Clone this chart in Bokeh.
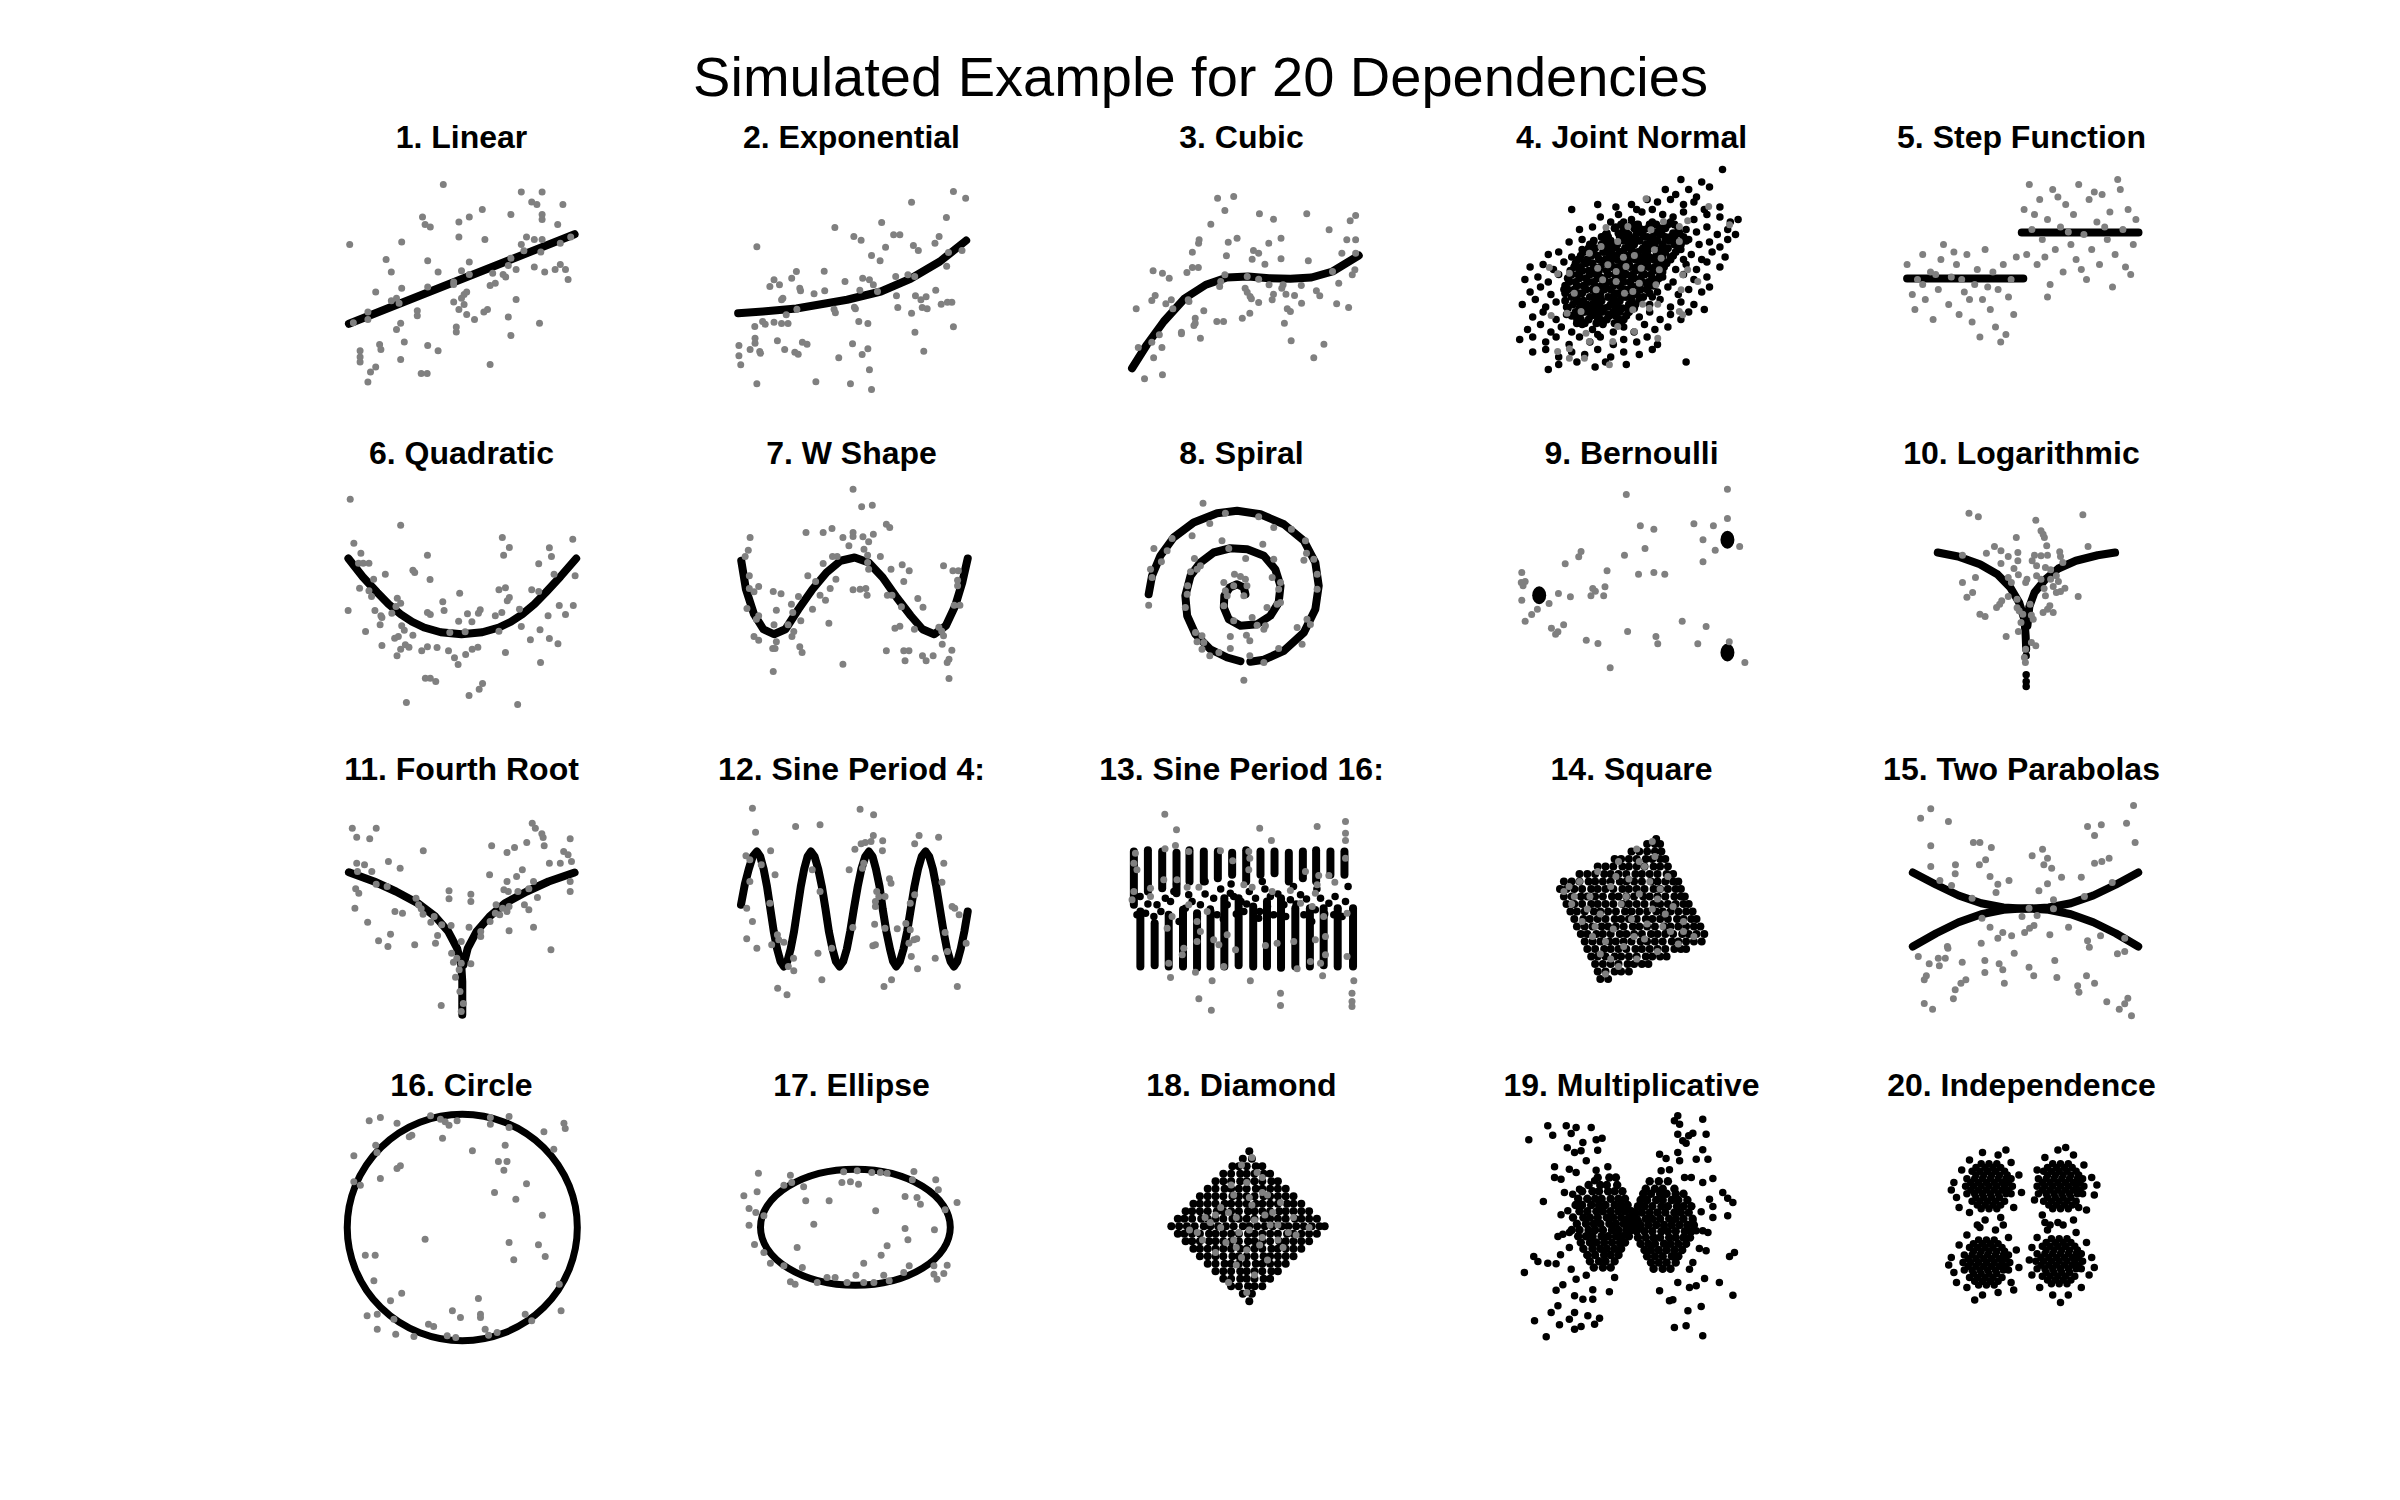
import numpy as np
from bokeh.plotting import figure
from bokeh.layouts import column, row, gridplot
from bokeh.models import Range1d, Spacer, Label
from bokeh.embed import file_html
from bokeh.resources import INLINE

NAN = float("nan")
FONT = "Liberation Sans"
GRAY = "#808080"
BLACK = "#000000"

MAIN_TITLE = "Simulated Example for 20 Dependencies"
PANEL_TITLES = ["1. Linear", "2. Exponential", "3. Cubic", "4. Joint Normal", "5. Step Function",
                "6. Quadratic", "7. W Shape", "8. Spiral", "9. Bernoulli", "10. Logarithmic",
                "11. Fourth Root", "12. Sine Period 4:", "13. Sine Period 16:", "14. Square", "15. Two Parabolas",
                "16. Circle", "17. Ellipse", "18. Diamond", "19. Multiplicative", "20. Independence"]

# ---------------- data (panel units 0-100) ----------------
LIN_CURVE_X = [6.7, 93.5]
LIN_CURVE_Y = [34.3, 70.1]
LIN_PTS = [(43,90),(73,87),(81,87),(77,83),(79,82),(89,82),(58,80),(53,77),(69,78),(35,77),(36,74),(38,73),(49,75),(81,78),(81,76),(87,74),(7,66),(27,67),(49,69),(59,68),(75,69),(78,68),(81,68),(92,69),(88,66.5),(73,66),(74,63.5),(80.5,63),(21,60),(37,59.5),(53,59),(69,60.5),(23,55),(41,55),(50,55.5),(53,54),(62,54.5),(66,54),(67,53),(68,57.6),(71,56),(78,57),(82,55),(86,56),(88,58),(90,56),(91,52),(17,47),(27,48.5),(37,49),(47,50),(47,51),(61,49.6),(63,50.5),(52,47),(51,46),(50,44.5),(47,43),(51,42),(49,40),(52,38),(55,36),(58.6,39),(60,40),(71,44),(68,37),(80,34.5),(69,29.6),(23,43.5),(25,44.5),(26,42.5),(14,39),(14,36),(8.4,34.7),(33,39.5),(33,37.5),(26.6,34.5),(25,32),(48,33),(48,31),(28,27),(18.5,26),(19,24),(11,23.5),(11,21),(11,19),(37,25.6),(41,23.5),(26.6,20),(17,17),(15,15),(14,11),(34.5,14.4),(36.8,14.4),(61,18)]

EXP_CURVE_X = [6.4, 15.9, 28.8, 48.3, 61.3, 72.7, 84, 94.1]
EXP_CURVE_Y = [38.5, 39.2, 40.4, 43.9, 47.2, 52.3, 59.2, 67.6]
EXP_PTS = [(89.2,87.2),(93.9,84.5),(73.1,82.9),(86.5,76.8),(61.6,74.8),(43.6,72.8),(13.6,65.1),(50.9,69.2),(53.7,67.7),(66.2,69.9),(68.6,69.9),(83.7,69.2),(82.1,66.5),(73.8,65.6),(75.7,63.6),(63.1,64.9),(92.5,63.6),(87.3,62.8),(57.7,61.6),(61,59.5),(86.6,57.3),(28.8,55.2),(39.5,55.3),(20.2,51.9),(27,52.5),(18.6,49.2),(22.3,49.9),(30.1,48.5),(30.4,47.5),(35.6,46.3),(39.7,47.5),(47.5,51.2),(54.3,52.5),(56.9,51.9),(58.4,49.9),(53.2,47.7),(60,47.2),(67,53.2),(71.7,53.9),(74.3,53.2),(67.3,45.5),(74.6,45.5),(76.7,43.9),(78.7,45.1),(82.4,47.7),(23.1,43.9),(23.6,44.5),(29,40.1),(43.3,40.1),(43.8,38.7),(51.1,40.9),(51.5,40.3),(67.8,40.8),(73.1,38.5),(77.2,40.8),(79.1,40.3),(84.5,42.1),(86.9,42.9),(88.6,42.9),(24.9,37.9),(12.8,33.2),(15.8,35.2),(16.8,34.1),(20.2,34.9),(23.1,34.4),(25.6,34.4),(52.8,35.2),(56.3,34.4),(89.2,33.1),(74.4,30.9),(12.9,28.5),(12.9,26.5),(6.7,25.6),(11,24),(14.7,23.2),(15,22.5),(21.5,27.5),(24.3,24),(28.2,22.9),(29.5,22.1),(31.1,26.9),(32.9,26.1),(50.4,26.3),(56.3,24.3),(54.1,22),(6.7,21.5),(7.4,17.9),(45.1,20.7),(77.8,23.3),(56.9,15.9),(13.6,10.3),(36.3,11.1),(49.6,10.3),(57.7,8)]

CUB_CURVE_X = [7.9, 13.6, 20.1, 28.2, 36.3, 44.4, 52.5, 60.6, 68.8, 76.9, 85, 95.1]
CUB_CURVE_Y = [16.5, 25.9, 35.2, 44.5, 49.9, 52.8, 53.2, 52.5, 52.3, 52.8, 55.2, 61.6]
CUB_PTS = [(40.8,84.5),(47,85.2),(43.6,79.6),(56.9,78.3),(75.1,78.3),(62.3,76.1),(38.2,74.1),(91.8,75.5),(93.9,77.6),(83.7,71.9),(48.3,68.5),(44.9,66.9),(33.7,67.9),(33.5,66.5),(60.5,66.5),(65.2,68.5),(90.5,67.9),(93.9,67.9),(31.1,62.9),(54.6,63.6),(56.6,62.5),(44.2,61.5),(54.1,60.1),(65.2,60.3),(59,58.1),(75.7,59.5),(88.6,62.5),(93.9,62.5),(93.6,55.9),(92.6,53.9),(85,55.2),(16,55.5),(19.6,54.5),(22.2,52.5),(29,54.8),(31.1,56.8),(33.4,56.8),(43.6,53.9),(52.2,53.2),(56.6,52.1),(42,51.2),(41.6,49.2),(51.4,48.5),(52.2,46.9),(60.6,49.9),(66,49.9),(65.5,48.5),(62.3,46.1),(67.1,46.1),(70.4,45.6),(73,49.6),(78.8,47.5),(80.1,45.5),(87.4,50.5),(16.8,45.6),(15.5,43.6),(20.9,42.3),(23,43.9),(23.6,40.3),(29.5,43.9),(29.8,43.2),(35.5,39.5),(53.3,45.2),(53.8,44.3),(56.6,42.8),(61.8,43.9),(73.1,42.5),(86.6,42.3),(91.2,40.8),(68.8,39.2),(67.6,40.3),(9.5,40.3),(53.2,38.5),(50.3,36.5),(32.2,36.5),(32.2,34.5),(31.7,33.6),(40.5,35.2),(43.1,35.2),(66.5,34.5),(26.9,30.9),(26.9,30.3),(34.2,28.5),(18.4,29.9),(15.5,26.9),(69.1,27.5),(81.7,26.1),(10.3,24.8),(19.4,24.8),(16.2,20.7),(77.8,20.7),(12.7,12.3),(19.6,13.9)]

JN_BLACK = [(85,96),(69,92),(77,91),(63,88),(72,88),(80,89),(67,86),(75,85),
(27,80),(37,82),(44,81),(50,82),(56,84),(60,83),(65,84),(70,82),(74,83),(78,80),(84,81),(58,80),(52,80),
(38,77),(45,78),(50,76),(54,79),(62,78),(66,77),(70,79),(74,76),(79,78),(84,77),(88,75),(91,76),(58,75),(42,75),(47,75),
(30,72),(35,73),(40,70),(44,73),(48,71),(52,74),(55,72),(59,71),(63,73),(67,70),(71,72),(75,71),(79,73),(83,70),(87,72),(90,70),(57,74),(65,75),
(26,67),(31,68),(35,66),(39,69),(43,66),(47,68),(51,67),(55,69),(59,66),(63,68),(67,66),(72,68),(76,66),(80,67),(84,65),(87,68),(49,70),(61,70),
(18,62),(22,63),(27,61),(31,64),(35,62),(39,63),(42,60),(46,63),(50,61),(54,64),(57,61),(61,63),(65,61),(69,64),(73,62),(77,60),(81,63),(86,61),(44,65),(58,65),(70,60),
(11,57),(16,58),(20,56),(24,59),(28,57),(32,59),(36,56),(40,59),(44,57),(48,59),(52,56),(55,59),(59,57),(63,59),(67,56),(71,58),(75,56),(79,59),(84,57),(46,55),(62,55),(30,55),
(9,52),(14,53),(18,51),(22,54),(26,52),(30,54),(34,51),(38,53),(42,51),(46,54),(50,52),(54,54),(58,51),(62,53),(66,51),(70,54),(74,52),(79,53),(36,55),(56,50),(44,50),
(11,47),(15,49),(19,46),(24,48),(28,46),(32,49),(36,47),(40,49),(44,46),(48,48),(52,46),(56,49),(60,47),(64,49),(68,46),(72,48),(77,47),(80,49),(38,45),(58,45),
(8,42),(13,44),(17,41),(21,43),(25,41),(29,44),(33,42),(37,44),(41,41),(45,43),(49,41),(53,44),(57,42),(61,44),(65,41),(69,43),(74,42),(78,40),(47,45),(35,40),
(12,37),(16,39),(21,36),(25,38),(29,36),(33,39),(37,36),(41,38),(45,36),(49,39),(53,37),(57,39),(61,36),(65,38),(69,36),(72,39),(39,40),
(10,32),(15,34),(19,31),(23,33),(27,31),(31,34),(35,32),(39,34),(43,31),(47,33),(51,31),(55,34),(59,32),(64,33),(37,30),
(7,28),(12,29),(17,27),(21,29),(26,26),(30,29),(34,27),(38,29),(43,26),(47,28),(52,27),(56,29),(60,26),
(12,23),(17,24),(22,21),(27,23),(32,22),(37,24),(42,21),(47,23),(53,22),(58,24),
(18,16),(22,18),(29,19),(36,17),(40,19),(48,18),(71,19)]
JN_CORE_ROWS = [
    (74, [46, 50, 52.5, 57, 59.5, 64, 66.5]),
    (72.5, [43.5, 47, 51, 53, 56.5, 61, 63, 68]),
    (70.5, [40.5, 45, 47.5, 52, 54, 59, 61.5, 66, 68.5]),
    (69, [38.5, 41, 45.5, 48, 51.5, 56, 58, 63, 65, 70]),
    (67.5, [35.5, 40, 42, 47, 49.5, 53, 57.5, 60, 64.5, 67, 71]),
    (66, [34, 38.5, 41, 44.5, 49, 51, 55.5, 58.5, 62, 66.5, 69]),
    (64.5, [33.5, 36, 40.5, 43, 47.5, 50, 54.5, 57, 61.5, 64, 68]),
    (63, [31.5, 35, 39.5, 42, 45.5, 50, 52.5, 56, 60.5, 63, 67]),
    (61.5, [30.5, 34.5, 37, 41.5, 44, 48, 52.5, 55, 59.5, 62, 66]),
    (60, [29.5, 33, 37.5, 40, 44.5, 47, 51.5, 54, 58.5, 61, 65]),
    (58.5, [28.5, 32.5, 35, 39.5, 42, 46.5, 49, 53.5, 56, 60.5, 63.5]),
    (57, [28, 30.5, 35.5, 38, 42.5, 45, 49.5, 52, 56.5, 59, 62.5]),
    (55.5, [26.5, 31, 33.5, 37.5, 40.5, 44.5, 47, 51.5, 54, 58.5, 61.5]),
    (54, [27, 29.5, 34, 36.5, 41, 43.5, 48, 50.5, 55, 57.5, 61]),
    (52.5, [25.5, 30, 32.5, 37, 39.5, 44, 46.5, 51, 53.5, 58, 60.5]),
    (51, [26, 28.5, 33, 35.5, 40, 42.5, 47, 49.5, 54, 56.5, 59.5]),
    (49.5, [24.5, 29, 31.5, 36, 38.5, 43, 45.5, 50, 52.5, 57, 58.5]),
    (48, [25.5, 28, 32.5, 35, 39.5, 42, 46.5, 49, 53.5, 56]),
    (46.5, [24.5, 29.5, 31, 36.5, 38, 43.5, 45, 50.5, 52, 57]),
    (45, [27, 29, 34, 36, 41, 43, 48, 50, 54.5]),
    (43.5, [24.5, 29, 31.5, 36, 38.5, 43, 45.5, 50, 53]),
    (42, [27.5, 30.5, 35, 37.5, 42, 44.5, 49, 51.5]),
    (40.5, [25.5, 30, 32.5, 37, 39.5, 44, 46.5, 51]),
    (39, [28.5, 31.5, 36, 38.5, 43, 45.5, 49]),
    (37.5, [27, 30, 34.5, 37, 41.5, 44, 48]),
    (36, [30.5, 33.5, 38, 40.5, 45, 47]),
    (34.5, [29, 32, 36.5, 39, 43.5, 46]),
]
JN_GRAY = [(55.6,84.3),(79.7,81.2),(40.2,72.8),(48.6,73.2),(57.5,71.9),(62.3,75.2),(68.4,73.2),(71.6,75.5),(38.3,65.2),(44.7,67.2),(68.4,67.2),(33.8,62.5),(46.9,60.9),(51.1,61.6),(58.8,63.9),(61.4,60.5),(18.4,56.8),(21.6,54.3),(26.1,54.5),(37,56.5),(40.9,57.9),(44.1,55.2),(47.9,57.2),(53.7,56.5),(60.7,55.9),(71.6,55.9),(69.7,53.9),(38.9,51.9),(44.1,51.2),(36.4,47.9),(53,50.5),(59.4,49.9),(47.3,46.5),(50.5,47.2),(69.1,47.9),(75.5,51.2),(28,46.5),(54.3,42.1),(60.1,42.1),(56.9,40.5),(30.6,39.2),(19.1,37.6),(25.2,38.5),(50.5,39.9),(68.4,39.2),(69.7,37.9),(44.7,33.2),(51.1,31.2),(32.5,30.5),(33.8,27.2),(21.6,23.2),(26.1,24.3),(26.1,20.5),(31.9,20.5),(41.5,17.9),(60.1,28.5),(42.8,27.2),(87.7,73.9)]

STEP_CURVE_X = [6, 50.7, NAN, 50.1, 95]
STEP_CURVE_Y = [52.4, 52.4, NAN, 70.8, 70.8]
STEP_PTS = [(6,58),(8,46),(9,40),(10,52),(12,62),(13,44),(15,55),(16,36),(18,48),(19,60),(20,66),(22,42),(23,53),(25,58),(26,38),(28,47),(29,62),(31,35),(32,50),(33,56),(35,44),(36,64),(38,40),(39,55),(40,33),(41,48),(43,58),(44,30),(45,45),(46,52),(47,38),(48,61),(12,50),(30,44),(37,49),(42,27),(24,63),(17,54),(27,52),(34,29),
(51,80),(52,62),(53,90),(54,72),(56,58),(57,84),(58,68),(60,76),(61,50),(62,88),(63,64),(65,73),(66,55),(67,82),(69,66),(70,78),(71,60),(72,90),(74,70),(75,52),(76,84),(77,64),(79,75),(80,58),(81,86),(83,68),(84,79),(85,49),(86,62),(88,88),(89,72),(90,57),(91,80),(93,66),(94,76),(55,78),(64,85),(73,56),(82,73),(87,92),(59,61),(78,87),(68,71),(92,54),(60,45)]

QUAD_CURVE_X = [6.5, 12, 17.6, 22, 26.6, 31, 35.6, 42, 50, 58, 64.4, 69, 73.4, 78, 82.4, 88, 94.1]
QUAD_CURVE_Y = [66.8, 59.5, 53.2, 48.5, 44.5, 41.5, 39.2, 37.3, 36.5, 37.3, 39.2, 41.5, 44.5, 48.5, 53.2, 59.5, 66.8]
QUAD_PTS = [(7.2,90.5),(26.6,80.1),(8.6,72.9),(11.3,68.9),(10.4,64.9),(12.2,64.9),(14.4,64.9),(36.9,68.1),(65.7,75.2),(68.4,71.2),(66.2,68.1),(92.8,74.5),(83.8,71.1),(84.6,67.6),(79.7,64.7),(31.3,62.1),(32,61.2),(20.7,60.5),(16.2,58.5),(37.9,58.4),(85.6,60.5),(93.7,59.9),(10.8,54.9),(14.4,53.9),(15.4,51.6),(49.3,52.9),(64.4,54.3),(66.9,55.1),(67.6,49.9),(68.4,51.2),(77,54.3),(79.7,53.6),(25.3,50.9),(26.6,48.9),(6.4,46),(16.7,46),(19,43.9),(19.4,43.2),(18.7,40.3),(23.2,44.9),(24.8,47.6),(42.8,49.5),(43.3,46),(36.9,45.2),(38,44.4),(52.3,44.7),(56.5,44.9),(57.2,46.3),(63,43.9),(65.5,45.2),(72.3,46.5),(87.6,48),(93,48),(83.3,43.9),(90,44.4),(13.1,37.6),(27,39.9),(28,38.1),(24.3,34.9),(25.7,35.6),(31.3,36.1),(48.9,41.7),(54,41.5),(45.5,37.2),(51.4,37.5),(64.4,37.7),(73,39.6),(80.2,38.3),(83.8,34.8),(87.1,32.7),(76.5,34.3),(19.4,32),(28.4,32.3),(26.6,30.5),(29.8,31.3),(25.2,27.9),(34.7,29.9),(36.9,31.5),(40.6,31.2),(45,29.9),(47.3,27.1),(48.7,24.4),(51.6,28.4),(54.1,30.5),(56.3,31.3),(66.9,29.2),(80.4,25.2),(36.1,18.9),(38,18.9),(40.1,17.6),(58.1,16.8),(56.8,14.5),(52.9,12),(28.8,9.2),(71.6,8.4)]

W_CURVE_X = [7.6, 9.4, 12.5, 16.1, 20.2, 24.6, 29.6, 35, 40.4, 45.8, 51.2, 56.6, 62, 67.4, 72.8, 77.3, 81.8, 86.3, 89.9, 92.6, 94.7]
W_CURVE_Y = [65.9, 54.5, 44.5, 38.5, 36.5, 38.5, 46.5, 54.5, 61.2, 65.9, 67.2, 65.2, 59.2, 51.2, 43.9, 38.5, 36.5, 39.9, 47.9, 57.2, 66.8]
W_PTS = [(50.6,94.5),(53.9,87.5),(58,88.1),(63.4,80.5),(64.7,79.2),(32.5,77.2),(39.1,77.2),(42.5,78.8),(46.7,75.2),(50.6,77.2),(50.6,75.6),(54.4,75.5),(58.4,76.5),(56.6,73.5),(49,71.9),(11,75.2),(10.3,70.1),(9.1,67.6),(54.8,70.5),(56.2,68.1),(42.7,67.6),(44.5,67.6),(39.1,64.8),(61.1,67.6),(69.5,64.3),(72.2,61.9),(65.2,62.5),(85.4,63.9),(89,61.9),(91.1,61.9),(33.2,59.9),(36.2,57.6),(44,58.5),(56.6,62.5),(56.2,65.2),(90.8,58.1),(90.8,55.9),(70.1,57.6),(10.7,59.9),(10.7,54.8),(12.5,53.5),(14.3,55.6),(19.9,53.6),(22.9,52.7),(29.6,51.6),(37.9,52.1),(40,50.1),(41.8,54.8),(50.6,54.3),(53.3,54.5),(55.5,54.8),(56,52.1),(63.8,52.1),(65.6,52.1),(75.5,50.8),(77.5,47.3),(69.2,47.5),(9.8,46.8),(26.9,48.5),(27.4,45.2),(21.1,46.1),(35,46.5),(89.5,48.1),(91.7,48.1),(13.4,42.5),(14.3,43.9),(20.2,40.3),(25.6,40.3),(30.5,41.9),(41.3,40.9),(27.8,37.6),(83.6,39.3),(84.7,37.7),(85.4,35.9),(74.2,38.5),(66.7,38.9),(68.6,39.7),(12.5,35.6),(14.3,34.1),(27.1,35.6),(21.1,33.5),(19.7,30.8),(20.6,30.8),(30.1,31.5),(31,29.2),(84.9,32.5),(63.4,29.9),(70.1,29.9),(72.1,29.9),(70.6,25.9),(77.3,27.9),(78.7,25.9),(81.4,27.9),(88.6,30.1),(87.5,26.5),(86.8,25.2),(46.7,24.5),(19.9,21.6),(87.5,18.8)]

SPIRAL_X = [14.3, 15.6, 18.8, 23.9, 31.6, 40.6, 48.3, 57.3, 66.3, 74, 78.4, 79.7, 78.4, 74, 66.3, 58.6, 53.4, NAN,
            49.6, 44.5, 38, 32.3, 29.1, 28.4, 30.4, 34.2, 39.3, 45.7, 52.2, 58.6, 63, 65, 64.3, 61.1, 56, 49.6, 45.1, 43.2, 43.4, 45.5, 48.3, 50.9, 51.5]
SPIRAL_Y = [52.5, 59.9, 67.9, 75.2, 81.2, 84.9, 85.9, 84.5, 80.5, 73.9, 65.2, 55.9, 46.5, 37.2, 29.9, 26.3, 25.5, NAN,
            25.7, 27.2, 30.5, 36.5, 43.9, 51.9, 59.9, 65.2, 69.2, 70.9, 70.5, 67.9, 62.5, 55.9, 49.2, 43.9, 40.5, 39.9, 42.5, 47.2, 51.9, 55.2, 56.5, 55.2, 52.5]
SPIRAL_PTS = [(35.2,88.9),(43.8,84.9),(37.8,80.8),(56.6,83.5),(62.4,79.2),(69.2,78.5),(23.3,74.8),(31,75.9),(42.5,73.9),(45.1,70.8),(58.2,72.5),(74.6,73.9),(16.3,70.8),(21.4,69.9),(75,68.9),(77.8,66.5),(74,66.1),(31.9,66.8),(62.4,66.5),(15,62.5),(15.6,59.2),(19.2,65.5),(30.4,61.5),(32.9,62.5),(34.2,63.9),(51.6,66.8),(47.3,60.5),(49.6,59.6),(51.5,58.5),(61.8,59.2),(79.1,60.5),(43.2,57.2),(47,55.9),(52.1,55.9),(65,57.2),(64.3,54.5),(79.1,54.5),(29.3,55.9),(29.1,52.5),(43.8,53.9),(44.5,51.9),(50.9,51.9),(65,49.2),(63.7,48.5),(14.3,48.1),(28.4,47.2),(59.8,47.2),(43.2,47.9),(47,41.9),(54.1,43.2),(56,40.1),(58.6,38.5),(59.2,39.9),(75.2,42.5),(76.5,40.4),(71.4,39.2),(32.3,37.2),(32.9,33.5),(34.8,35.9),(35.5,33.2),(45.7,35.6),(51.9,36.1),(53.2,33.9),(45.7,30.8),(34.8,30.5),(37.8,27.9),(41.3,29.2),(53.2,27.9),(64.3,30.8),(73.3,32.5),(58.6,25.2),(50.9,18.1)]

BERN_BIG_X = [14.5, 86.9, 86.9]
BERN_BIG_Y = [52.1, 74.3, 29.2]
BERN_PTS = [(48,92.4),(86.9,94.5),(86.9,82.8),(53.4,79.9),(58.6,78.5),(74,80.7),(81.5,79.9),(77.5,74.3),(91.6,71.6),(82.2,70.1),(55.2,70.8),(47.3,68.1),(30.6,69.6),(29.7,67.5),(24.5,64.7),(77.5,65.5),(40.6,61.9),(52.7,60.5),(58.6,61.2),(62.8,60.5),(7.8,61.2),(7.6,57.2),(9.1,57.6),(8.3,55.9),(35.1,54.8),(36.1,53.7),(34.4,51.9),(39.8,55.5),(39.3,51.9),(21.9,52.8),(26.5,51.5),(7.8,50.1),(18.3,48.8),(13.8,46.5),(11.6,44.4),(9.1,41.7),(19.2,38.9),(23.9,40.3),(21.7,37.5),(20.8,36.5),(32.6,34.1),(37.1,32.8),(48.5,37.6),(59.4,35.6),(60.1,32.7),(69.5,41.7),(78.7,39.6),(75.5,32.7),(87.6,33.5),(93.6,25.2),(41.8,23.1)]

LOG_CURVE_X = [17.8, 25.6, 34, 40.7, 45.7, 49.1, 51.1, 51.6, 51.8, NAN, 52.3, 53, 55, 59.2, 64.2, 70.9, 79.3, 86]
LOG_CURVE_Y = [69.2, 67.6, 64.5, 60.5, 55.2, 49.2, 42.5, 35.9, 30.5, NAN, 40, 47.5, 53.2, 58.5, 62.8, 65.9, 68.1, 69.2]
LOG_STEM_X = [51.8, 51.8, 51.8, 51.8]
LOG_STEM_Y = [27.9, 20.3, 17.6, 15.6]
LOG_PTS = [(29.8,84.9),(33.4,83.5),(55.5,82.1),(73.6,84.3),(48,75.2),(57.5,77.9),(58.3,76.5),(58.8,75.2),(59.7,71.9),(75.6,71.6),(27.3,68.1),(36.5,68.9),(39.6,71.6),(42.1,69.9),(44.9,67.6),(48.6,69.2),(55,68.1),(57.5,67.9),(60,68.1),(64.7,69.5),(65,67.6),(42.1,64.8),(48.6,65.9),(54.1,65.9),(55.8,63.9),(59.2,63.2),(61.2,62.3),(65.9,65.2),(47.1,62.8),(48.8,60.3),(44.9,59.2),(52.1,58.5),(55.8,59.9),(57.5,58.5),(61.2,58.5),(63.4,59.9),(64.2,57.6),(27.3,57.2),(32.3,59.2),(46.1,57.2),(51.6,57.2),(58.7,54.8),(62.2,55.6),(66.7,54.9),(65,53.6),(63.4,53.2),(31.2,53.2),(29,51.3),(44.9,51.6),(48.3,50.5),(42.4,49.9),(41.6,48.5),(40.4,47.2),(48.3,47.1),(53.3,48.5),(59.2,51.9),(60.9,47.9),(60,46.5),(58.3,45.2),(62.2,45.2),(71.8,51.6),(34,44.5),(36,43.6),(49.1,45.9),(50.5,44.5),(53.8,44.1),(54.5,42.5),(49.8,41.2),(48.8,37.6),(44.1,35.6),(53.8,33.2),(55.5,31.9),(51.6,30.5),(51.1,27.2),(51.5,25.2)]

ROOT_CURVE_X = [6.7, 16.4, 24.8, 33.2, 39.9, 44.9, 48.3, 49.9, 50.3, 50.3, NAN, 50.8, 52.4, 55.8, 60.8, 66.7, 75.1, 83.5, 93.5]
ROOT_CURVE_Y = [67.7, 64, 60, 55.3, 50, 44, 37.3, 30.7, 24, 10.7, NAN, 30.7, 37.3, 44, 50, 55.3, 60, 64, 67.6]
ROOT_PTS = [(8,85.3),(17.2,85.3),(9.7,81.7),(14.7,81.1),(35.3,76.3),(77.2,87.3),(78.4,85.3),(80.9,83.1),(81.4,81.6),(75.1,79.6),(70.4,77.6),(67.5,75.6),(61.6,78.3),(91.8,81.1),(81.8,78.3),(89.3,76),(91,74.7),(92.3,72),(88,71.3),(83.8,71.3),(21.9,72),(9.7,71.3),(12.7,70.7),(26.4,69.3),(15.5,68),(10,68),(73.4,68.7),(71.2,66),(67.5,64),(60.8,66.7),(77.7,64),(75.9,61.1),(71.7,60),(91.8,64),(91.8,60),(9.3,61.1),(10.5,59.3),(17.2,62.9),(21.4,62),(45.2,60.3),(53.6,58.9),(45.2,57.1),(53.6,56),(66.3,60.7),(68,60),(79.2,57.6),(74.2,54.7),(75.9,52.7),(9,53.3),(24.4,52),(27.3,51.3),(32.5,57.3),(33.5,54.7),(34.5,53.1),(35.2,50.9),(63.3,54.7),(65.8,53.3),(67.5,52),(68.3,54),(63,51.3),(64.7,50.7),(13.9,47.7),(39.5,50),(38.2,47.7),(42.4,46.7),(46,46.4),(52.9,45.7),(57.4,44),(57.4,42),(61,48),(77.7,45.7),(68.3,44.3),(22.7,42.9),(18.1,40.3),(21.7,38),(32,38.7),(40.8,42.4),(40,39.3),(49.9,40),(84.4,36.7),(46.2,35.3),(48.2,33.3),(46.9,31.7),(49.9,31.3),(53.6,31.1),(49.1,28.7),(47.7,25.7),(49.4,20),(50.7,15.2),(42.2,14.4),(49.9,12)]

SIN4_X = [7.5, 9.0, 10.5, 12.0, 13.6, 14.9, 16.2, 17.5, 18.8, 20.1, 21.4, 22.7, 24.0, 25.3, 26.6, 27.9, 29.2, 30.5, 31.8, 33.1, 34.4,
          35.8, 37.2, 38.6, 40.0, 41.3, 42.7, 44.0, 45.4, 46.8, 48.2, 49.5, 50.9, 52.4, 53.8, 55.3, 56.7, 58.1, 59.4, 60.8, 62.0,
          63.4, 64.8, 66.0, 67.2, 68.6, 70.0, 71.4, 72.8, 74.2, 75.6, 77.0, 78.5, 79.9, 81.3, 82.6, 84.0, 85.4, 86.7, 88.1, 89.4,
          90.7, 92.0, 93.4, 94.7]
SIN4_Y = [54.7, 63, 69, 74, 76, 74, 69, 62, 53, 44, 37, 32, 30, 32, 37, 44, 53, 62, 69, 74, 76,
          74, 69, 62, 53, 44, 37, 32, 30, 32, 37, 44, 53, 62, 69, 74, 76, 74, 69, 62, 53,
          44, 37, 32, 30, 32, 37, 44, 53, 62, 69, 74, 76, 74, 69, 62, 53, 44, 37, 32, 30,
          32, 37, 44, 52]
SIN4_PTS = [(11.9,93.3),(13.1,83.7),(28.5,86),(37.9,86.7),(53.3,92.9),(58.5,90.7),(58.4,82.4),(53.7,79.1),(51.3,76.9),(55.3,79.6),(57.5,80),(62,80.3),(61.9,76.3),(74.3,79.1),(76,82.4),(83.5,81.7),(18.9,76.3),(9.4,74.3),(10.9,72.7),(15.3,70.7),(34.9,68.7),(49.1,68.7),(54.7,71.3),(54.2,69.3),(85.5,71.3),(10.9,64),(37.9,60),(64.6,65.1),(65.2,63.3),(59.7,60),(59.2,56),(59.2,54),(60.5,58),(62.9,58),(74.3,58.7),(72.6,55.3),(84.8,63.7),(20.6,66.7),(9.7,53.3),(18.6,55.3),(88.7,54),(89.7,53.3),(91.4,50.7),(11.9,48),(50.5,45.6),(58.9,46.9),(62.9,45.3),(67.6,45.1),(70.9,47.2),(72.6,44.7),(59.2,38.7),(9.7,41.1),(13.6,37.3),(19.3,38.7),(21.5,42.7),(24,39.7),(22,40.7),(74,40.7),(75.1,41.1),(86,43.6),(86.9,36),(94.1,39.3),(42.4,37.3),(58.2,38.3),(72.1,39.3),(37.1,35.3),(27.7,33.3),(25.7,30),(27.8,28.3),(73,34),(82.2,33.3),(75.4,29.1),(38.6,24.7),(65.4,24.7),(62.5,22),(21.6,21.3),(25.2,18.7),(90.7,22)]

S16_UP_X = [8.6, 14, 19.5, 25, 30, 35.5, 40.9, 46.4, 51.8, 57.3, 62.7, 68.2, 73.6, 78.7, 84.2, 89.6]
S16_UP_LO = [54.7, 60, 61.3, 59.3, 64, 64, 65.3, 66.7, 64, 66.7, 67.3, 64, 65.3, 64, 66.7, 66.7]
S16_UP_HI = [76, 76.5, 76, 75.5, 76.5, 76, 76, 75.5, 76.5, 76, 76, 75.5, 76, 76.5, 76, 76]
S16_LO_X = [11.1, 16.6, 22, 27.5, 32.9, 38.1, 43.4, 48.9, 54.5, 59.8, 65.2, 70.7, 76.3, 81.6, 87, 92.9]
S16_LO_LO = [30, 30.5, 30, 30, 29.5, 30, 30, 30.5, 30, 30, 29.5, 30, 30, 30.5, 30, 30]
S16_LO_HI = [52, 47.3, 50.7, 52.7, 51.3, 52, 57.3, 57.3, 54, 56, 57.3, 53.3, 53.3, 53.3, 53.3, 53.3]
S16_MID = [(13.1,51.3),(16.3,50),(22.7,56),(28.4,53.3),(34.2,54.7),(39.3,57.3),(44.5,54.7),(49.8,56),(55.4,57.3),(61.1,58),(66.3,54.7),(72.7,58.7),(78.4,52.7),(83.6,55.3),(88.7,50),(17.5,54.7),(29.7,58.7),(40.6,50.7),(50.9,52),(62.4,50.7),(74,50.7),(85.5,50.7),(9.8,50.7),(20.7,57.3),(45.7,59.3),(68.8,56.7),(80.4,57.3),(56.6,49.3),
(11,58),(14,55),(19,52),(24,60),(26,48),(31,56),(33,50),(36,59),(38,53),(42,61),(43,49),(47,58),(48,51),(53,60),(52,55),(57,52),(59,61),(60,54),(64,59),(67,50),(70,62),(71,55),(75,57),(77,48),(79,61),(82,51),(86,58),(87,53),(90,56),(91,62),(25,63),(36,64),(46,63),(58,64)]
S16_PTS = [(20.5,90.9),(25,84.7),(57,85.3),(79.1,86),(90,88),(90,83.3),(90,80.4),(61.5,80.4),(20.6,77.1),(24.6,78.4),(9.2,75.3),(8.6,71.3),(9.8,68.7),(29.7,76),(41.9,76.3),(46.6,72.3),(52.8,76),(53.2,73.3),(52.8,68.7),(90,73.3),(74.6,68),(79.7,66.4),(83.6,66.4),(85.9,63.7),(25.2,64.7),(20.1,64.7),(29.1,61.7),(33.6,61.7),(15,61.3),(15,58),(8.6,60),(7.9,56.7),(50.9,62.7),(54.1,61.7),(61.8,60),(68.8,60.4),(79.1,62.7),(78.4,59.3),(72.7,55.3),(77.2,54),(81.6,50),(90.6,51.3),(29.7,54.7),(23.3,50),(32.9,48),(34.2,44),(32.9,40),(21.4,45.3),(39.3,40.7),(44.5,42.7),(41.3,38.7),(36.8,52),(27.8,37.3),(27.2,34.7),(47.7,36.7),(59.2,38.4),(63.7,39.3),(70.1,40),(78.4,40.7),(82.3,42),(82.3,34.7),(76.5,32),(80.4,31.3),(90.6,34),(22,31.3),(43.2,30),(71.4,29.1),(22.7,25.6),(32.3,27.7),(38.7,24.3),(53.4,24.3),(81.2,26.3),(93.2,24.3),(33.6,17.1),(38.4,12.5),(65,19.3),(65,14.4),(92.5,19.3),(92.5,16),(92.5,14)]

SQ_ROWS = [
    (25, [38, 41]),
    (28, [37, 40, 43.5, 46, 49]),
    (31, [36, 39, 42, 45, 48.5, 51, 54, 56.5]),
    (34, [34.5, 37, 40, 43.5, 46, 49, 52, 55.5, 58, 61, 63.5]),
    (37, [33, 36, 39.5, 42, 45, 48, 51.5, 54, 57, 60, 63, 66.5, 69, 71]),
    (40, [32, 35, 38, 41.5, 44, 47, 50, 53.5, 56, 59, 62, 65.5, 68, 71, 74, 77]),
    (43, [30.5, 33, 36.5, 39, 42, 45.5, 48, 51, 54, 57.5, 60, 63, 66, 69.5, 72, 75, 78]),
    (46, [29, 32, 35, 38.5, 41, 44, 47, 50.5, 53, 56, 59, 62.5, 65, 68, 71, 74, 76.5]),
    (49, [28, 31.5, 34, 37, 40, 43.5, 46, 49, 52, 55.5, 58, 61, 64, 67.5, 70, 73, 75]),
    (52, [26.5, 29, 32, 35.5, 38, 41, 44, 47.5, 50, 53, 56, 59.5, 62, 65, 68, 71, 73.5]),
    (55, [25, 28, 31, 34.5, 37, 40, 43, 46.5, 49, 52, 55, 58.5, 61, 64, 67, 70, 72]),
    (58, [24, 27, 30.5, 33, 36, 39, 42.5, 45, 48, 51, 54.5, 57, 60, 63, 66.5, 69, 70.5]),
    (61, [22.5, 25, 28, 31, 34.5, 37, 40, 43, 46.5, 49, 52, 55, 58.5, 61, 64, 67, 69]),
    (64, [24, 27, 30, 33.5, 36, 39, 42, 45.5, 48, 51, 54, 57.5, 60, 63, 66, 68]),
    (67, [30, 33, 36, 39.5, 42, 45, 48, 51.5, 54, 57, 60, 63.5, 66]),
    (70, [37, 40, 43, 46.5, 49, 52, 55, 58.5, 61, 64]),
    (73, [43.5, 46, 49, 52, 55.5, 58, 61, 63]),
    (76, [50, 53, 56, 59, 61.5]),
    (79, [56, 59, 61]),
    (81, [59.5]),
]
SQ_GRAY = [(40,27),(45,30),(52,33),(38,35),(60,36),(47,38),(68,39),(35,42),(55,41),(74,42),(43,45),(62,46),(31,48),(50,49),(70,48),(38,51),(58,53),(27,55),(46,55),(66,54),(34,58),(53,59),(24,60),(42,62),(61,61),(30,64),(49,65),(64,66),(37,68),(55,70),(45,72),(59,74),(52,77),(58,80),(40,40),(65,44),(48,58),(56,47),(33,53),(60,57),(44,66),(51,42),(70,44),(26,62),(36,46),(63,51),(42,33),(57,64),(53,72),(28,58)]

PAR_X = [8.2, 17.2, 25.8, 34.5, 43.1, 51.7, 60.4, 69, 77.6, 86.2, 94.9]
PAR_UP_Y = [67.6, 62.7, 58.4, 55.3, 53.6, 53.1, 53.6, 55.3, 58.4, 62.7, 67.6]
PAR_DN_Y = [38, 43.3, 47.7, 50.9, 52.7, 53.3, 52.7, 50.9, 47.7, 43.3, 38]
PAR_PTS = [(15.1,93.1),(11.2,89.3),(21.9,88),(93.1,94.4),(90.4,87.3),(75.4,86),(80.7,86.7),(78.1,82.4),(93.7,79.6),(15.1,78.3),(31.5,79.6),(34,79.6),(38.4,77.6),(58.1,76.9),(54.1,74.3),(60,73.3),(58.6,70.7),(61.6,69.3),(36.2,72.7),(33.8,70.7),(24.6,70.7),(24.5,67.1),(15.1,70),(78.1,71.3),(80.9,72),(83.7,73.3),(37.9,66),(40.9,62.9),(45.2,64.4),(40.2,59.6),(56.7,60.3),(60,63.1),(65.4,65.7),(73,65.7),(84.9,63.6),(18.6,64.4),(23.1,62.4),(74.2,58),(31,57.3),(62.3,56.7),(34.8,49.3),(50.2,50),(56,50.4),(52.9,53.3),(62.3,53.1),(37.9,45.7),(42.8,43.6),(40.9,41.3),(46.2,42.3),(51.2,43.6),(53.1,45.3),(54.8,46.4),(60.9,42.7),(68.1,45.7),(80.4,42.3),(75.4,40.3),(76.1,37.7),(89.7,41.3),(21.5,38),(21.7,37.3),(34.5,39.3),(10.3,34),(18,33.3),(20.7,33.3),(18.4,30.3),(14.5,31.1),(27.2,31.7),(35.9,32.4),(41.4,31.1),(47.2,35.3),(62.8,32.4),(52.9,29.7),(89.7,36),(86.9,35.1),(13.4,26.3),(12.6,24.7),(35.9,27.6),(42.8,28.7),(54.7,26.3),(63.6,25.6),(75,26.3),(26.7,23.3),(28.6,24.7),(43.4,23.3),(71.6,22.3),(72.1,19.7),(78.1,23.3),(24.5,20.7),(23.8,17.1),(12.6,15.2),(15.8,12.9),(82.8,15.9),(87.6,12.9),(89.7,15.1),(90.9,17.3),(92.3,10.3)]

CIRCLE_SHAPE = dict(x=[50.3], y=[52.0], w=[88.5], h=[90.6])
CIRCLE_PTS = [(14.5,94.7),(18.8,96),(25.2,93.7),(38.1,96.7),(41.9,95.3),(43.7,94.3),(45.2,92.9),(48.3,94.7),(61.1,96),(61.1,93.3),(68.3,96.4),(68.3,92),(81.7,90.3),(89.4,93.7),(89.9,91.6),(30.9,88.9),(29.9,88.3),(42.7,87.7),(17,84.9),(17.5,82),(8.6,80.7),(66.8,84.9),(54.2,82.7),(85.5,83.3),(64.2,78.4),(67.5,78.4),(66.3,74.9),(25.2,75.6),(26.5,76.7),(18.8,71.6),(8.6,70.3),(11.1,68.9),(75,69.5),(62.7,66),(70.9,63.3),(81.1,56.9),(36,47.3),(68.3,46),(79.6,45.1),(13,40.9),(16.8,40.9),(70.1,39.1),(82.2,40.4),(16.3,30.7),(87.6,29.3),(27,25.7),(22.7,22.7),(56.5,23.6),(46.5,18.7),(49.6,16),(57.3,17.3),(57.3,16),(88.3,18.7),(74.5,17.3),(77,14.7),(13.7,16.7),(17.6,17.3),(24,15.3),(37.3,13.3),(39.3,12.4),(17.6,11.3),(24.7,9.3),(31.7,8.4),(44.5,8.7),(47.8,8),(59.1,11.3),(60.4,8.9),(63.7,10)]

ELLIPSE_SHAPE = dict(x=[51.5], y=[52.1], w=[73.0], h=[46.4])
ELLIPSE_PTS = [(14.2,73.7),(26.5,72.9),(27,70),(24,68.9),(31.6,68.3),(46.3,70),(49.6,70.3),(52.7,69.3),(47,74.3),(52.2,74.7),(57.8,74),(61.1,74),(63.7,73.7),(74,74.4),(73.4,71.1),(82.4,71.1),(83.4,67.1),(70.6,64.4),(75.2,64),(76.5,61.3),(90.6,62),(8.6,64.7),(13.7,66.3),(10.6,59.6),(13.2,58),(16.3,56.7),(32.4,62.7),(41.4,62.7),(59.3,58.7),(86,59.1),(35.5,53.3),(70.6,51.6),(81.9,51.1),(10.6,52.9),(12.7,45.2),(16.3,42),(29.1,44),(63.7,44.7),(71.7,47.1),(61.4,40.9),(18.8,37.7),(24,36.7),(31.1,36),(54.7,37.7),(72.2,36.7),(81.7,36.7),(86.8,36.9),(81.7,33.3),(85.5,33.6),(82.9,31.3),(26.5,30.3),(28.3,29.3),(36.8,30),(40.6,32),(43.7,32),(48.3,30),(51.7,32.9),(54.7,30),(58.6,30),(62.4,32.9),(64.5,30.7),(70.1,34)]

DIA_ROWS = [
    (22.5, [53]),
    (25.5, [50.5, 54]),
    (28.5, [46, 49, 52.5, 55, 58]),
    (31.5, [43, 46, 49.5, 52, 55, 58.5, 61]),
    (34.5, [40, 43, 46, 49.5, 52, 55, 58, 61.5, 64]),
    (37.5, [37, 40, 43.5, 46, 49, 52, 55.5, 58, 61, 64, 67]),
    (40.5, [34, 37, 40, 43, 46.5, 49, 52, 55, 58.5, 61, 64, 67, 70]),
    (43.5, [31.5, 34, 37, 40, 43, 46, 49.5, 52, 55, 58, 61.5, 64, 67, 70, 73]),
    (46.5, [28.5, 31, 34, 37.5, 40, 43, 46, 49, 52.5, 55, 58, 61, 64.5, 67, 70, 73, 76]),
    (49.5, [25.5, 28, 31, 34, 37.5, 40, 43, 46, 49, 52.5, 55, 58, 61, 64, 67.5, 70, 73, 76, 79]),
    (52.5, [23, 26, 29, 32, 35.5, 38, 41, 44, 47, 50.5, 53, 56, 59, 62, 65.5, 68, 71, 74, 77, 80, 82]),
    (55.5, [25.5, 28, 31, 34.5, 37, 40, 43, 46.5, 49, 52, 55, 58.5, 61, 64, 67, 70.5, 73, 76, 79]),
    (58.5, [28.5, 31, 34, 37, 40.5, 43, 46, 49, 52.5, 55, 58, 61, 64.5, 67, 70, 73, 76]),
    (61.5, [31.5, 34, 37, 40, 43.5, 46, 49, 52, 55.5, 58, 61, 64, 67.5, 70, 73]),
    (64.5, [34, 37, 40, 43, 46.5, 49, 52, 55, 58.5, 61, 64, 67, 70]),
    (67.5, [37, 40, 43.5, 46, 49, 52, 55.5, 58, 61, 64, 67]),
    (70.5, [40, 43, 46, 49.5, 52, 55, 58, 61.5, 64]),
    (73.5, [43, 46, 49.5, 52, 55, 58.5, 61]),
    (76.5, [46.5, 49, 52, 55.5, 58]),
    (79.5, [50.5, 54]),
    (82.5, [53]),
]
DIA_GRAY = [(45,30),(55,33),(48,37),(60,39),(40,42),(52,43),(66,44),(35,47),(47,47),(58,48),(71,49),(30,51),(42,52),(53,51),(64,53),(76,52),(36,56),(48,56),(59,57),(70,56),(42,60),(54,61),(65,62),(47,65),(58,66),(52,70),(56,74),(50,77),(44,46),(62,58),(38,54),(68,50),(50,40),(57,45),(45,58),(53,64),(61,53),(33,50),(55,55),(49,50),(58,72),(46,69),(54,80),(52,26),(64,47),(40,57),(60,65),(48,44)]

MULT_OUTER = [(10.5,87.1),(17.8,92.7),(19.7,88.9),(24.9,92.7),(28.7,92),(34.5,92),(26.8,89.6),(36.4,87.1),(38.7,87.7),(31.3,86),(25.3,83.9),(28.1,82),(30.6,82.7),(37,82.9),(32.6,78.7),(20.4,76.3),(20.4,72),(22.9,71.3),(26.1,75.3),(28.7,74),(36.4,74.9),(40.9,76.3),(35.8,70.7),(24.2,66),(30,67.3),(27.4,65.3),(16.1,62.4),(22.9,57.1),(25.5,58.7),(21.7,48.4),(23.6,49.3),(26.1,50),(12.4,40.4),(14,38.4),(17.8,37.7),(21,37.5),(22.7,41.1),(26.1,44),(8.8,34),(26.8,35.3),(28.7,31.3),(32.6,32.9),(23.6,29.1),(21,26.9),(28.1,24.7),(31.3,23.3),(35.1,23.3),(35.1,27.1),(41.5,26.3),(43.5,32),(19.1,18),(21.7,20.7),(28.1,18),(33.2,16.7),(12.7,14.7),(22.3,13.1),(26.1,15.3),(28.1,11.3),(30.6,12.4),(35.8,13.3),(37.7,15.7),(17.2,8.3),
(67.8,96.7),(77.4,95.3),(66.5,94.7),(68.5,93.3),(67.8,89.3),(73.6,89.7),(72,88.7),(78.7,89.3),(69.7,86.7),(71,85.7),(67.8,82),(77.4,83.1),(60.8,81.3),(63.3,79.6),(79.4,79.3),(74.9,79.3),(68.5,78.7),(61.4,74.7),(64.6,75.1),(70.4,72),(73,72),(81.3,71.6),(77.4,70),(85.1,66),(87,63.7),(89,62),(80,63.3),(81.3,60.4),(87,56.7),(81.3,56),(76.8,58.3),(73.6,54.7),(77.4,50.7),(79.4,50),(74.9,50.7),(89.6,42),(87.7,40.4),(76.1,43.6),(78.7,42.7),(73.6,38),(72.3,35.3),(78.1,31.6),(83.8,30),(74.9,28.7),(72.3,28),(67.8,30),(64.6,22.7),(65.9,23.1),(60.8,26.7),(89,24.9),(71.7,18.7),(76.8,20.4),(66.5,12),(71,12.7),(77.4,8.7)]
MULT_ROWS = [
    (72, [37, 41.5, 44]), (70.5, [57, 60.5, 64]),
    (69, [33.5, 38, 40.5, 44.5]), (67.5, [55.5, 59, 62, 66.5]),
    (66.5, [31, 35, 37.5, 41, 43.5, 46.5]), (65.5, [54.5, 57.5, 61, 63.5, 67, 70]),
    (63.5, [29.5, 33, 36, 38.5, 42, 45, 47.5]), (63, [53.5, 56, 59.5, 62, 65.5, 68, 71.5]),
    (61, [28.5, 31, 34.5, 37.5, 40, 43.5, 46, 48.5]), (60.5, [52.5, 55, 58, 61.5, 64, 67.5, 70, 73]),
    (58.5, [30, 33, 36.5, 39, 42, 45, 47.5, 50]), (58, [51.5, 54, 57, 60, 63, 66.5, 69, 72]),
    (56, [27.5, 31.5, 34, 37, 40.5, 43, 46, 49, 50.5]), (55.5, [52, 55.5, 58, 61, 64.5, 67, 70, 73.5]),
    (54.5, [48, 50.5, 52.5]),
    (53.5, [29, 32.5, 35.5, 38, 41.5, 44, 47, 49.5]), (53, [51, 53.5, 56.5, 59.5, 62.5, 65.5, 68.5, 71.5, 74]),
    (52, [48.5, 50.5, 53]),
    (51, [27, 30, 33.5, 36, 39, 42.5, 45, 48, 50]), (50.5, [52, 55, 58, 61.5, 64, 67, 70.5, 73]),
    (48.5, [29.5, 32.5, 35, 38.5, 41, 44, 46.5, 49]), (48, [52.5, 55.5, 58.5, 61, 64.5, 67, 70, 72.5]),
    (46, [30.5, 34, 36.5, 39.5, 42.5, 45.5, 47.5]), (45.5, [53.5, 56.5, 59, 62.5, 65, 68, 71]),
    (43.5, [31.5, 35, 38, 40.5, 43.5, 46]), (43, [55, 57.5, 60.5, 63.5, 66.5, 69.5]),
    (41, [33, 36, 39.5, 42, 45]), (40.5, [56, 59, 62, 65.5, 68]),
    (38.5, [34, 37.5, 40, 43.5]), (38, [57.5, 60.5, 63.5, 67]),
    (36, [35.5, 39, 42]), (35.5, [58.5, 62, 65]),
]

IND_ROWS = [
    (77.5, [34.5, 37.5, 40.5]), (76, [32.5, 36, 39, 42]), (74.5, [31, 34, 37, 40, 43.5]), (73, [32.5, 35.5, 38.5, 41.5, 44.5]),
    (71.5, [29, 32, 35, 38, 41, 44, 46]), (70, [30.5, 33.5, 36.5, 39.5, 42.5, 45]),
    (68.5, [28.5, 31.5, 34.5, 37.5, 40.5, 43.5, 46.5]), (67, [30.5, 33.5, 36.5, 39.5, 42.5, 45]),
    (65.5, [29, 32, 35, 38, 41, 44, 46]), (64, [32.5, 35.5, 38.5, 41.5]),
    (62.5, [31, 34, 37, 40, 43.5]), (61, [33, 36, 39, 42]), (59.5, [34.5, 37.5, 40.5]),
    (77.5, [62, 65, 68]), (76, [60, 63.5, 66.5, 69.5]), (74.5, [58.5, 61.5, 64.5, 67.5, 71]), (73, [60, 63, 66, 69, 72]),
    (71.5, [56.5, 59.5, 62.5, 65.5, 68.5, 71.5, 73.5]), (70, [58, 61, 64, 67, 70, 72.5]),
    (68.5, [56, 59, 62, 65, 68, 71, 74]), (67, [58, 61, 64, 67, 70, 72.5]),
    (65.5, [56.5, 59.5, 62.5, 65.5, 68.5, 71.5, 73.5]), (64, [60, 63, 66, 69]),
    (62.5, [58.5, 61.5, 64.5, 67.5, 71]), (61, [60.5, 63.5, 66.5, 69.5]), (59.5, [62, 65, 68]),
    (47, [33.5, 36.5, 39.5]), (45.5, [31.5, 35, 38, 41]), (44, [30, 33, 36, 39, 42.5]), (42.5, [31.5, 34.5, 37.5, 40.5, 43.5]),
    (41, [28, 31, 34, 37, 40, 43, 45]), (39.5, [29.5, 32.5, 35.5, 38.5, 41.5, 44]),
    (38, [27.5, 30.5, 33.5, 36.5, 39.5, 42.5, 45.5]), (36.5, [29.5, 32.5, 35.5, 38.5, 41.5, 44]),
    (35, [28, 31, 34, 37, 40, 43, 45]), (33.5, [31.5, 34.5, 37.5, 40.5]),
    (32, [30, 33, 36, 39, 42.5]), (30.5, [32, 35, 38, 41]), (29, [33.5, 36.5, 39.5]),
    (47.5, [61.5, 64.5, 67.5]), (46, [59.5, 63, 66, 69]), (44.5, [58, 61, 64, 67, 70.5]), (43, [59.5, 62.5, 65.5, 68.5, 71.5]),
    (41.5, [56, 59, 62, 65, 68, 71, 73]), (40, [57.5, 60.5, 63.5, 66.5, 69.5, 72]),
    (38.5, [55.5, 58.5, 61.5, 64.5, 67.5, 70.5, 73.5]), (37, [57.5, 60.5, 63.5, 66.5, 69.5, 72]),
    (35.5, [56, 59, 62, 65, 68, 71, 73]), (34, [59.5, 62.5, 65.5, 68.5]),
    (32.5, [58, 61, 64, 67, 70.5]), (31, [60, 63, 66, 69]), (29.5, [61.5, 64.5, 67.5]),
]
IND_OUTER = [(24,70),(25,64),(27,75),(30,79),(35,82),(41,81),(46,78),(49,73),(50,66),(47,60),(42,56),(36,55),(30,58),(26,60),(23,67),(44,83),(33,53),
(55,63),(56,75),(59,80),(64,83),(70,81),(74,77),(77,72),(78,65),(75,59),(70,55),(64,54),(58,57),(67,84),(61,53),(79,69),(72,60),
(23,40),(24,34),(26,45),(29,49),(34,52),(40,51),(45,48),(48,43),(49,36),(46,30),(41,26),(35,25),(29,28),(25,30),(22,37),(43,53),(32,23),(47,27),
(53,39),(54,44),(56,48),(60,51),(66,53),(71,50),(75,46),(77,40),(76,33),(73,28),(68,25),(62,25),(57,28),(54,33),(78,36),(65,22),(59,54)]

# ---------------- helpers ----------------
def xy(pairs):
    return [p[0] for p in pairs], [p[1] for p in pairs]

def rows_xy(rows):
    xs, ys = [], []
    for yv, xrow in rows:
        for xv in xrow:
            xs.append(xv)
            ys.append(yv)
    return xs, ys

def panel(title):
    p = figure(width=390, height=316, frame_width=260, frame_height=250,
               x_range=Range1d(0, 100), y_range=Range1d(0, 100),
               x_axis_location=None, y_axis_location=None,
               toolbar_location=None, output_backend="svg",
               min_border_left=65, min_border_right=65,
               min_border_top=48, min_border_bottom=18, title=title)
    p.grid.visible = False
    p.outline_line_color = None
    p.title.align = "center"
    p.title.text_font = FONT
    p.title.text_font_size = "32px"
    p.title.text_font_style = "bold"
    p.title.text_color = BLACK
    return p

def curve(p, xs, ys, width=8):
    p.line(np.array(xs, dtype=float), np.array(ys, dtype=float), line_color=BLACK,
           line_width=width, line_cap="round", line_join="round")

def dots(p, xs, ys, color, size=7.0):
    p.scatter(np.array(xs, dtype=float), np.array(ys, dtype=float), size=size,
              fill_color=color, line_color=None, marker="circle")

panels = [panel(t) for t in PANEL_TITLES]

p = panels[0]; curve(p, LIN_CURVE_X, LIN_CURVE_Y); dots(p, *xy(LIN_PTS), GRAY)
p = panels[1]; curve(p, EXP_CURVE_X, EXP_CURVE_Y); dots(p, *xy(EXP_PTS), GRAY)
p = panels[2]; curve(p, CUB_CURVE_X, CUB_CURVE_Y); dots(p, *xy(CUB_PTS), GRAY)
p = panels[3]; dots(p, *xy(JN_BLACK), BLACK, 7.5); dots(p, *rows_xy(JN_CORE_ROWS), BLACK, 8); dots(p, *xy(JN_GRAY), GRAY)
p = panels[4]; curve(p, STEP_CURVE_X, STEP_CURVE_Y); dots(p, *xy(STEP_PTS), GRAY)
p = panels[5]; curve(p, QUAD_CURVE_X, QUAD_CURVE_Y); dots(p, *xy(QUAD_PTS), GRAY)
p = panels[6]; curve(p, W_CURVE_X, W_CURVE_Y); dots(p, *xy(W_PTS), GRAY)
p = panels[7]; curve(p, SPIRAL_X, SPIRAL_Y); dots(p, *xy(SPIRAL_PTS), GRAY)
p = panels[8]
p.ellipse(BERN_BIG_X, BERN_BIG_Y, width=14, height=18, width_units="screen", height_units="screen",
          fill_color=BLACK, line_color=None)
dots(p, *xy(BERN_PTS), GRAY)
p = panels[9]; curve(p, LOG_CURVE_X, LOG_CURVE_Y); dots(p, LOG_STEM_X, LOG_STEM_Y, BLACK, 7.5); dots(p, *xy(LOG_PTS), GRAY)
p = panels[10]; curve(p, ROOT_CURVE_X, ROOT_CURVE_Y); dots(p, *xy(ROOT_PTS), GRAY)
p = panels[11]; curve(p, SIN4_X, SIN4_Y); dots(p, *xy(SIN4_PTS), GRAY)
p = panels[12]
p.segment(S16_UP_X, S16_UP_LO, S16_UP_X, S16_UP_HI, line_color=BLACK, line_width=8, line_cap="round")
p.segment(S16_LO_X, S16_LO_LO, S16_LO_X, S16_LO_HI, line_color=BLACK, line_width=8, line_cap="round")
dots(p, *xy(S16_MID), BLACK, 7.5)
dots(p, *xy(S16_PTS), GRAY)
p = panels[13]; dots(p, *rows_xy(SQ_ROWS), BLACK, 8); dots(p, *xy(SQ_GRAY), GRAY)
p = panels[14]; curve(p, PAR_X, PAR_UP_Y); curve(p, PAR_X, PAR_DN_Y); dots(p, *xy(PAR_PTS), GRAY)
p = panels[15]
p.ellipse(CIRCLE_SHAPE["x"], CIRCLE_SHAPE["y"], width=CIRCLE_SHAPE["w"], height=CIRCLE_SHAPE["h"],
          fill_color=None, line_color=BLACK, line_width=7)
dots(p, *xy(CIRCLE_PTS), GRAY)
p = panels[16]
p.ellipse(ELLIPSE_SHAPE["x"], ELLIPSE_SHAPE["y"], width=ELLIPSE_SHAPE["w"], height=ELLIPSE_SHAPE["h"],
          fill_color=None, line_color=BLACK, line_width=7)
dots(p, *xy(ELLIPSE_PTS), GRAY)
p = panels[17]; dots(p, *rows_xy(DIA_ROWS), BLACK, 8); dots(p, *xy(DIA_GRAY), GRAY)
p = panels[18]; dots(p, *xy(MULT_OUTER), BLACK, 7.5); dots(p, *rows_xy(MULT_ROWS), BLACK, 8.5)
p = panels[19]; dots(p, *rows_xy(IND_ROWS), BLACK, 7.5); dots(p, *xy(IND_OUTER), BLACK, 7.5)

grid = gridplot(panels, ncols=5, toolbar_location=None)

header = figure(width=2400, height=111, x_range=Range1d(0, 1), y_range=Range1d(0, 1),
                x_axis_location=None, y_axis_location=None, toolbar_location=None,
                output_backend="svg", min_border=0)
header.grid.visible = False
header.outline_line_color = None
header.add_layout(Label(x=1200, y=35, x_units="screen", y_units="screen", text=MAIN_TITLE,
                        text_align="center", text_baseline="alphabetic", text_font=FONT,
                        text_font_size="56px", text_color=BLACK))

layout = column(header, row(Spacer(width=266, height=10), grid))

with open("out.html", "w") as f:
    f.write(file_html(layout, INLINE))
